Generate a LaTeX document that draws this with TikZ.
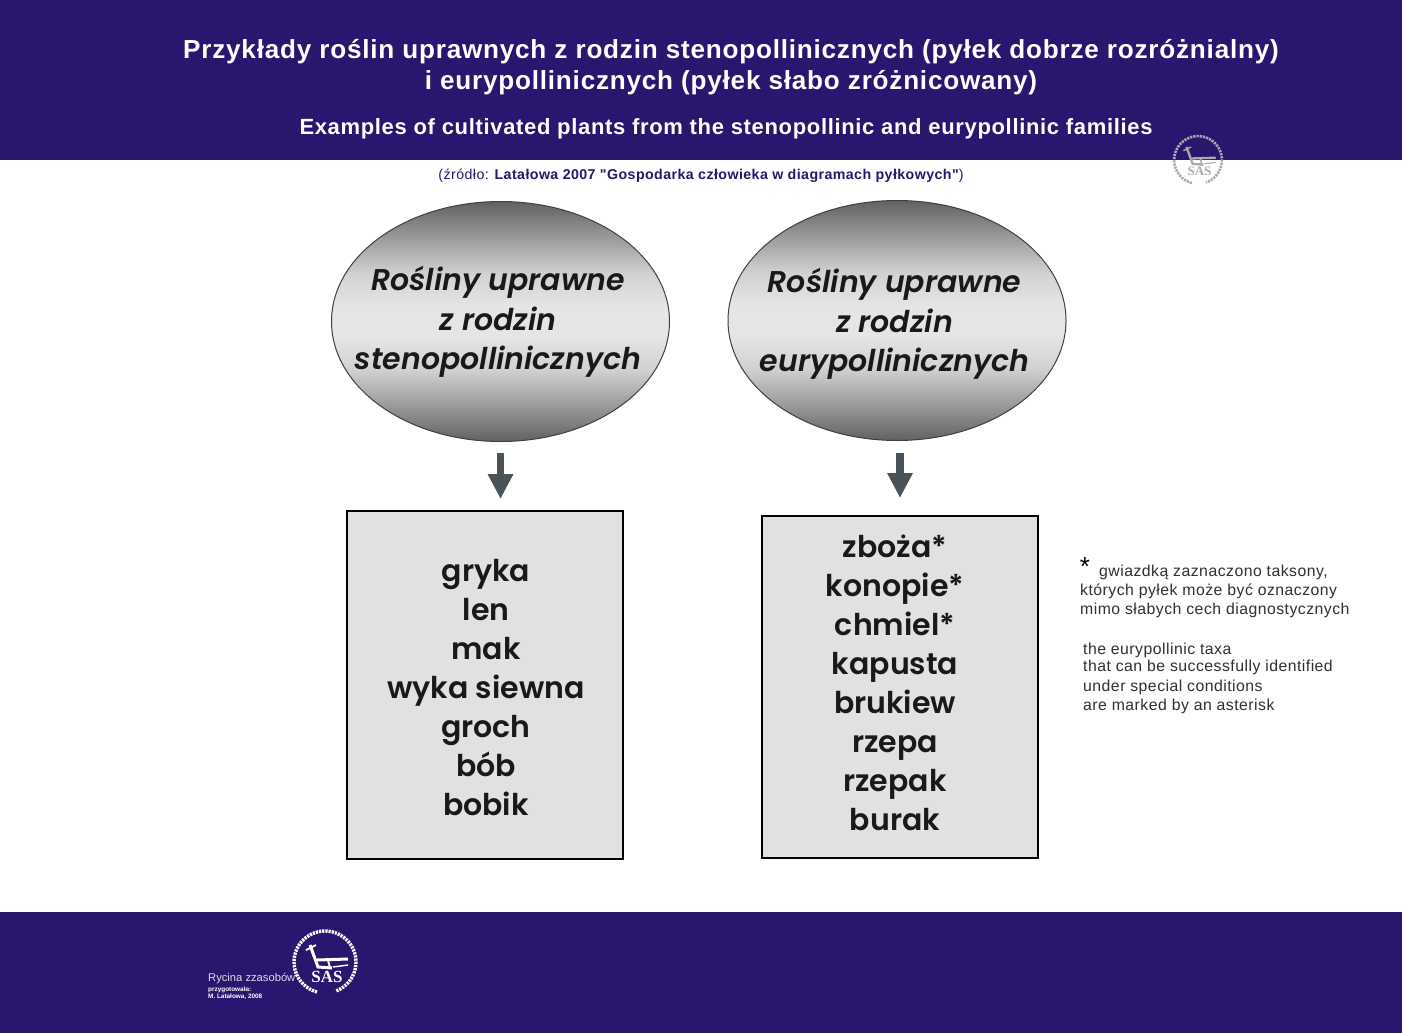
\documentclass[tikz,border=0pt]{standalone}
\usepackage{fontspec}
\setmainfont{Liberation Sans}
\newfontfamily\gothic[BoldFont={Poppins SemiBold},BoldItalicFont={Poppins SemiBold Italic}]{Poppins}
\newfontfamily\titlefont[LetterSpace=3.0]{Liberation Sans}
\newfontfamily\notefont[LetterSpace=3.0]{Liberation Sans}
\newfontfamily\logofont{Liberation Serif}
\usetikzlibrary{arrows.meta,shapes.geometric}
\definecolor{navy}{HTML}{29166F}
\definecolor{boxfill}{HTML}{E0E1E3}
\definecolor{arrowgrey}{HTML}{4A5358}
\definecolor{notegrey}{HTML}{303030}
\definecolor{logogrey}{HTML}{A9A9AE}
\pgfdeclareverticalshading{ellgrad}{100bp}{color(0bp)=(black!62);color(25bp)=(black!62);color(31bp)=(black!44);color(40bp)=(black!18);color(47bp)=(black!10);color(53bp)=(black!10);color(60bp)=(black!18);color(69bp)=(black!44);color(75bp)=(black!62);color(100bp)=(black!62)}
\tikzset{
  bar/.style={fill=navy,draw=none,minimum width=1402pt,inner sep=0pt,anchor=north west},
  ell/.style={ellipse,draw=black!75,line width=1pt,shading=ellgrad,inner sep=0pt,minimum width=338pt,minimum height=240pt},
  ellabel/.style={font=\gothic\bfseries\itshape\fontsize{30}{39.5}\selectfont,text=black!90,align=center,inner sep=0pt},
  listbox/.style={rectangle,draw=black,line width=2.4pt,fill=boxfill,inner sep=0pt,minimum width=276pt},
  listlabel/.style={font=\gothic\bfseries\fontsize{30}{39}\selectfont,text=black!90,align=center,inner sep=0pt},
  fatarrow/.style={draw=arrowgrey,line width=7.5pt,-{Triangle[width=24pt,length=25pt]}},
  titletext/.style={text=white,inner sep=0pt,align=center},
  notetext/.style={font=\notefont\fontsize{15.8}{19}\selectfont,text=notegrey,inner sep=0pt,anchor=west},
}
\newcommand{\saslogo}[5]{%
  \begin{scope}[shift={(#1,#2)},scale=#3,line cap=butt]
    \draw[#4,line width=3.4pt*#3,dash pattern=on 2.2pt off 1pt] plot[domain=105:430,samples=70] ({31*cos(\x)},{31*sin(\x)});
    \draw[#4,line width=3pt*#3] (-15,-17) -- (-7,5) -- (7,6);
    \draw[#4,line width=1.8pt*#3] (-19,-12) -- (-9,-17);
    \draw[#4,line width=3pt*#3] (-8,-2) -- (23,-3);
    \draw[#4,line width=2pt*#3] (3,-2) -- (5,6);
    \draw[#4,line width=1.4pt*#3] (8,5) -- (23,3);
    \node[text=#4,inner sep=0pt,font=\logofont\bfseries\fontsize{#5}{#5}\selectfont] at (2,15) {SAS};
  \end{scope}}
\begin{document}
\begin{tikzpicture}[x=1pt,y=-1pt]
\useasboundingbox (0,0) rectangle (1402,1033);
\fill[white] (0,0) rectangle (1402,1033);
\node[bar,minimum height=160pt] (topbar) at (0,0) {};
\node[bar,minimum height=121pt] (botbar) at (0,912) {};
\node[titletext,font=\titlefont\bfseries\fontsize{26.1}{31}\selectfont] (t1) at (731,67) {Przykłady roślin uprawnych z rodzin stenopollinicznych (pyłek dobrze rozróżnialny)\\i eurypollinicznych (pyłek słabo zróżnicowany)};
\node[titletext,font=\titlefont\fontsize{22}{26}\selectfont] (t2) at (726,129) {\bfseries Examples of cultivated plants from the stenopollinic and eurypollinic families};
\node[inner sep=0pt,text=navy,font=\notefont\fontsize{14.2}{16}\selectfont] (src) at (701,176) {(źródło: {\bfseries Latałowa 2007 "Gospodarka człowieka w diagramach pyłkowych"})};

\saslogo{1198}{160}{.77}{logogrey}{13}

\node[ell] (e1) at (500.5,321.5) {};
\node[ell] (e2) at (897,320.5) {};
\node[ellabel] (e1t) at (498,322) {Rośliny uprawne\\z rodzin\\stenopollinicznych};
\node[ellabel] (e2t) at (894.5,324) {Rośliny uprawne\\z rodzin\\eurypollinicznych};

\node[listbox,anchor=north west,minimum height=348pt] (b1) at (346,510) {};
\node[listbox,anchor=north west,minimum height=342pt] (b2) at (761,515) {};
\node[listlabel] (b1t) at (486,688) {gryka\\len\\mak\\wyka siewna\\groch\\bób\\bobik};
\node[listlabel] (b2t) at (895,683) {zboża*\\konopie*\\chmiel*\\kapusta\\brukiew\\rzepa\\rzepak\\burak};

\draw[fatarrow,shorten <=11pt,shorten >=11pt] (e1.south) -- (e1.south |- b1.north);
\draw[fatarrow,shorten <=12pt,shorten >=17pt] ([xshift=3pt]e2.south) -- ([xshift=3pt]e2.south |- b2.north);

\node[inner sep=0pt,text=black,font=\fontsize{26}{26}\selectfont] (ast) at (1085,567) {*};
\node[notetext] (n1) at (1099,572) {gwiazdką zaznaczono taksony,};
\node[notetext] (n2) at (1080,591) {których pyłek może być oznaczony};
\node[notetext] (n3) at (1080,610) {mimo słabych cech diagnostycznych};
\node[notetext] (n4) at (1083,650) {the eurypollinic taxa};
\node[notetext] (n5) at (1083,667) {that can be successfully identified};
\node[notetext] (n6) at (1083,687) {under special conditions};
\node[notetext] (n7) at (1083,706) {are marked by an asterisk};

\node[inner sep=0pt,anchor=west,text=white!85!navy,font=\fontsize{11.2}{13}\selectfont] (f1) at (208,979) {Rycina zzasobów};
\node[inner sep=0pt,anchor=west,text=white,font=\bfseries\fontsize{6.4}{7}\selectfont,align=left] (f2) at (208,993) {przygotowała:\\M. Latałowa, 2008};
\saslogo{325}{962}{1}{white}{17}
\end{tikzpicture}
\end{document}
